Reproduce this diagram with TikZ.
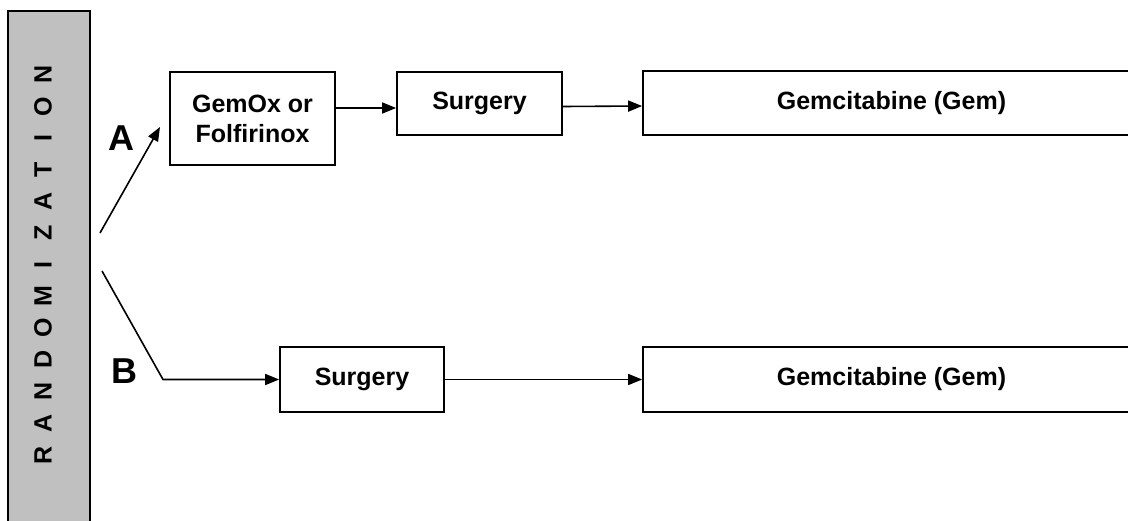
\documentclass[tikz,border=0pt]{standalone}
\usepackage{fontspec}
\setmainfont{Liberation Sans}
\usetikzlibrary{arrows.meta}

\definecolor{bargray}{RGB}{192,192,192}

\begin{document}
\begin{tikzpicture}[x=1pt,y=-1pt,
    box/.style={draw, line width=1.7pt, fill=white, inner sep=0pt, align=center,
        font=\bfseries\fontsize{25}{30}\selectfont},
    arr/.style={line width=1.6pt, -{Triangle[length=14pt,width=11pt]}},
    arm/.style={font=\bfseries\fontsize{36}{40}\selectfont}]
    \useasboundingbox (0,0) rectangle (1128,520);
    \clip (0,0) rectangle (1128,520);

    % randomization bar
    \draw[fill=bargray, line width=1.4pt] (8,11) rectangle (90,540);
    \foreach \l [count=\i] in {R,A,N,D,O,M,I,Z,A,T,I,O,N}
        \node[rotate=90, font=\bfseries\fontsize{25}{25}\selectfont] (let\i) at (43,{455-31.7*(\i-1)}) {\l};

    % arm A
    \node[box, minimum width=165, minimum height=93] (gemox) at (252.5,118.5) {GemOx or\\Folfirinox};
    \node[box, minimum width=165, minimum height=63] (surgA) at (479.5,103.5) {Surgery};
    \node[box, minimum width=497, minimum height=64] (gemA) at (891.5,103) {Gemcitabine (Gem)};

    % arm B
    \node[box, minimum width=164, minimum height=65] (surgB) at (362,379.5) {Surgery};
    \node[box, minimum width=497, minimum height=65] (gemB) at (891.5,379.5) {Gemcitabine (Gem)};

    \node[arm] (labA) at (121,138) {A};
    \node[arm] (labB) at (124,371) {B};

    \coordinate (outA) at (100,233);
    \coordinate (tipA) at (160,127);
    \coordinate (outB) at (102,271);
    \coordinate (kneeB) at (163,379.5);

    \draw[arr] (outA) -- (tipA);
    \draw[arr] ([yshift=10.5pt]gemox.east) -- ([yshift=-4.5pt]surgA.west);
    \draw[arr] ([yshift=-3pt]surgA.east) -- ([yshift=-3pt]gemA.west);

    \draw[arr] (outB) -- (kneeB) -- (surgB.west);
    \draw[arr] (surgB) -- (gemB);

\end{tikzpicture}
\end{document}
